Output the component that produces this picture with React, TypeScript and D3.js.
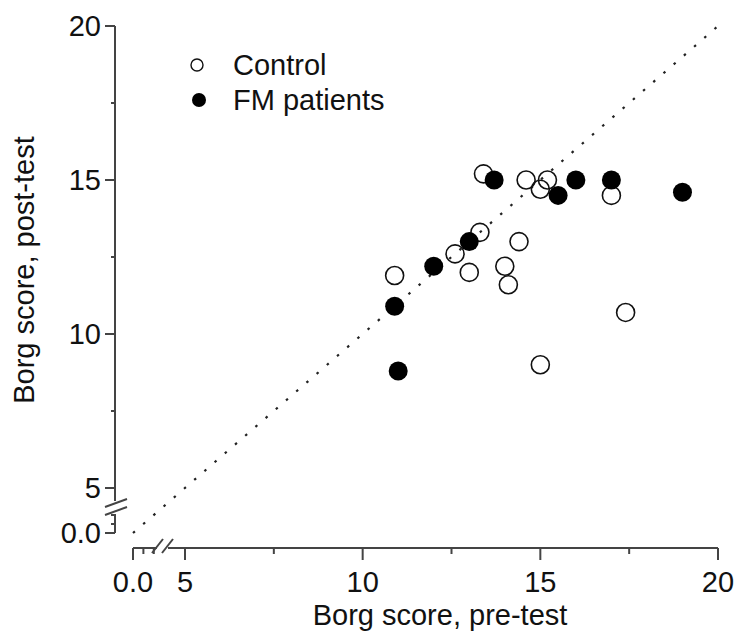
import * as d3 from 'd3';

// Borg scores: [pre-test, post-test]
const controlPre = [13.4, 14.6, 15.2, 15.0, 17.0, 13.3, 12.6, 14.4, 10.9, 13.0, 14.0, 14.1, 17.4, 15.0];
const controlPost = [15.2, 15.0, 15.0, 14.7, 14.5, 13.3, 12.6, 13.0, 11.9, 12.0, 12.2, 11.6, 10.7, 9.0];
const fmPre = [13.7, 16.0, 17.0, 15.5, 19.0, 13.0, 12.0, 10.9, 11.0];
const fmPost = [15.0, 15.0, 15.0, 14.5, 14.6, 13.0, 12.2, 10.9, 8.8];

const majorTicks = [5, 10, 15, 20];
const minorTicks = [7.5, 12.5, 17.5];
const lowTicks = [1, 2];
const legendLabels = ['Control', 'FM patients'];

const W = 736;
const H = 635;
const font = '"Liberation Sans", Arial, sans-serif';
const axisColor = '#444';

export default function App() {
  // axes are broken between 0 and 5, the identity line stays straight through both parts
  const x = d3.scaleLinear().domain([0, 5, 20]).range([133, 185, 718]);
  const y = d3.scaleLinear().domain([0, 5, 20]).range([533, 488, 26]);

  const axisX = 115; // y axis position
  const axisY = 548; // x axis position

  const diag = d3.line<number>().x(d => x(d)).y(d => y(d));

  const control = controlPre.map((v, i) => [v, controlPost[i]]);
  const fm = fmPre.map((v, i) => [v, fmPost[i]]);

  return (
    <svg width={W} height={H} style={{ position: 'absolute', left: 0, top: 0, background: '#fff' }}
      fontFamily={font} fill="#111">
      {/* identity line */}
      <path d={diag([0, 20]) || ''} fill="none" stroke="#222" strokeWidth={2.2}
        strokeDasharray="2.5,11" />

      {/* y axis */}
      <g stroke={axisColor} strokeWidth={2}>
        <line x1={axisX} x2={axisX} y1={y(20)} y2={y(5) + 13} />
        <line x1={axisX} x2={axisX} y1={y(0) - 19} y2={y(0)} />
        {majorTicks.map(t => (
          <line key={t} x1={axisX - 10} x2={axisX} y1={y(t)} y2={y(t)} />
        ))}
        <line x1={axisX - 10} x2={axisX} y1={y(0)} y2={y(0)} />
        {minorTicks.map(t => (
          <line key={t} x1={axisX - 4} x2={axisX} y1={y(t)} y2={y(t)} />
        ))}
        {lowTicks.map(t => (
          <line key={t} x1={axisX - 4} x2={axisX} y1={y(t)} y2={y(t)} />
        ))}
        <line x1={axisX - 10} x2={axisX + 12} y1={y(5) + 19} y2={y(5) + 11} />
        <line x1={axisX - 10} x2={axisX + 12} y1={y(5) + 27} y2={y(5) + 19} />
      </g>
      <g fontSize={29} textAnchor="end">
        {majorTicks.map(t => (
          <text key={t} x={axisX - 14} y={y(t)} dy="0.36em">{t}</text>
        ))}
        <text x={axisX - 14} y={y(0)} dy="0.36em">0.0</text>
      </g>

      {/* x axis */}
      <g stroke={axisColor} strokeWidth={2}>
        <line x1={x(0)} x2={x(0) + 24} y1={axisY} y2={axisY} />
        <line x1={x(0) + 35} x2={x(20)} y1={axisY} y2={axisY} />
        {majorTicks.map(t => (
          <line key={t} x1={x(t)} x2={x(t)} y1={axisY} y2={axisY + 12} />
        ))}
        <line x1={x(0)} x2={x(0)} y1={axisY} y2={axisY + 12} />
        {minorTicks.map(t => (
          <line key={t} x1={x(t)} x2={x(t)} y1={axisY} y2={axisY + 6} />
        ))}
        {lowTicks.map(t => (
          <line key={t} x1={x(t)} x2={x(t)} y1={axisY} y2={axisY + 6} />
        ))}
        <line x1={x(0) + 19} x2={x(0) + 30} y1={axisY + 5} y2={axisY - 9} />
        <line x1={x(0) + 29} x2={x(0) + 40} y1={axisY + 5} y2={axisY - 9} />
      </g>
      <g fontSize={29} textAnchor="middle">
        {majorTicks.map(t => (
          <text key={t} x={x(t)} y={axisY + 44}>{t}</text>
        ))}
        <text x={x(0)} y={axisY + 44}>0.0</text>
      </g>

      {/* axis titles */}
      <text x={440} y={625} fontSize={29} textAnchor="middle">Borg score, pre-test</text>
      <text transform="translate(34,270) rotate(-90)" fontSize={29} textAnchor="middle">
        Borg score, post-test
      </text>

      {/* data */}
      {control.map((d, i) => (
        <circle key={'c' + i} cx={x(d[0])} cy={y(d[1])} r={9} fill="none"
          stroke="#111" strokeWidth={1.6} />
      ))}
      {fm.map((d, i) => (
        <circle key={'f' + i} cx={x(d[0])} cy={y(d[1])} r={9.5} fill="#000" />
      ))}

      {/* legend */}
      <circle cx={197} cy={65} r={6} fill="none" stroke="#111" strokeWidth={1.4} />
      <text x={233} y={75} fontSize={29}>{legendLabels[0]}</text>
      <circle cx={199} cy={100} r={7} fill="#000" />
      <text x={233} y={110} fontSize={29}>{legendLabels[1]}</text>
    </svg>
  );
}
